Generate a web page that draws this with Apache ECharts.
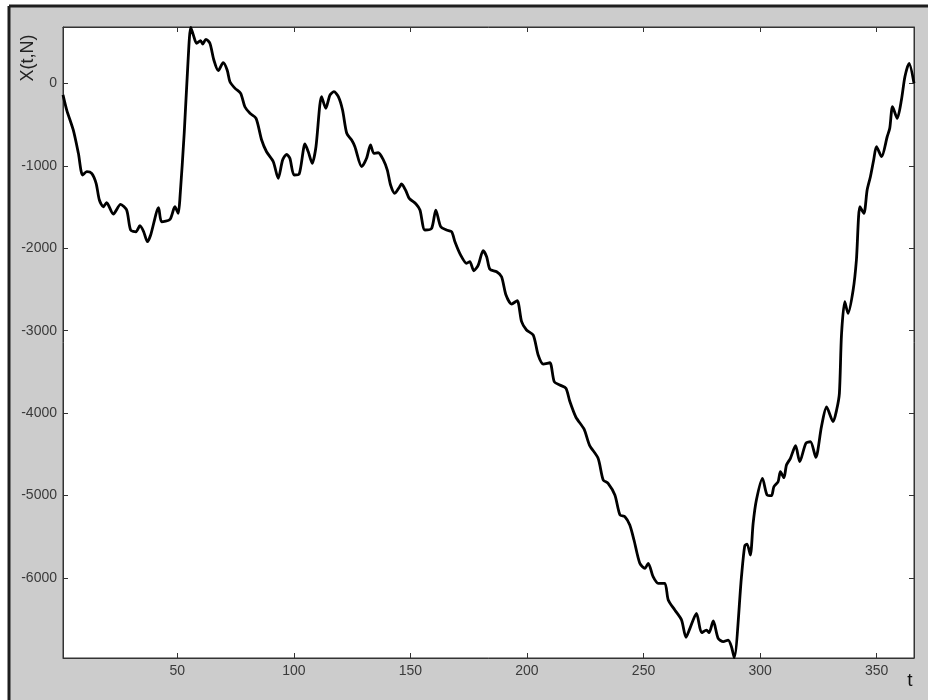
<!DOCTYPE html>
<html>
<head>
<meta charset="utf-8">
<script src="https://cdn.jsdelivr.net/npm/echarts@6/dist/echarts.min.js"></script>
<style>
html,body{margin:0;padding:0;background:#fff;}
#chart{width:928px;height:700px;}
</style>
</head>
<body>
<div id="chart"></div>
<script>
// t values (x axis)
const tValues = [1,2.6,5.4,7.6,9.4,11.2,13.3,15.2,16.6,18.3,19.7,22.6,25.7,28.3,30.0,32.3,34.0,35.6,37.2,38.6,42.0,43.3,46.9,49.0,50.4,51.2,53,54.5,55.8,
56.9,58.3,60.0,60.9,62.3,64.0,65.7,67.6,69.7,71.4,72.6,74.8,77.2,79.0,81.2,83.8,86.2,88.3,91.2,93.3,95.2,96.9,98.3,100.1,102.3,104.8,106.2,107.9,109.5,111.9,113.7,115.5,117.2,119.1,120.9,122.7,124.8,126.2,129.1,131.2,132.9,134.3,136.2,138.3,140.1,141.5,143.3,145.4,146.2,148.1,149.5,152.4,154.1,156.2,159.1,160.9,163.0,165.5,167.7,169.1,171.5,174.1,175.5,177.2,179.1,181.2,182.7,184.1,187.0,189.1,191.0,193.4,195.8,197.7,199.8,202.7,204.8,207.0,209.8,211.7,214.1,216.7,218.4,221.0,224.5,226.8,230.5,232.7,234.8,237.7,239.9,242.0,244.1,245.9,248.4,250.6,252.0,254.1,256.3,259.1,260.6,263.4,266.3,268.2,269.9,272.7,274.9,277.0,278.1,279.9,282.0,284.2,286.3,287.7,288.9,292.0,293.4,294.4,295.8,297.0,298.4,301.0,303.0,304.9,305.9,307.7,308.7,310.2,311.3,313.0,315.2,317.0,319.6,321.6,323.9,326.3,328.5,331.3,332.8,334.0,334.9,336.3,337.7,339.9,341.3,342.8,344.5,345.9,347.3,348.7,349.9,352.1,354.5,355.6,356.8,358.8,360.6,362.1,363.9,366];
// X(t,N) values
const xValues = [-140,-324,-566,-849,-1112,-1072,-1092,-1213,-1415,-1497,-1448,-1585,-1468,-1537,-1779,-1800,-1727,-1800,-1921,-1840,-1509,-1679,-1650,-1497,-1577,-1375,-600,200,679,
586,485,517,477,534,485,283,153,250,161,19,-61,-121,-284,-364,-425,-688,-830,-951,-1152,-930,-861,-910,-1112,-1100,-736,-830,-970,-769,-162,-303,-142,-102,-162,-324,-606,-688,-769,-1011,-910,-748,-849,-842,-922,-1052,-1233,-1334,-1254,-1221,-1306,-1395,-1464,-1537,-1779,-1759,-1537,-1739,-1779,-1800,-1921,-2080,-2183,-2163,-2273,-2204,-2030,-2103,-2256,-2285,-2346,-2568,-2677,-2637,-2891,-2992,-3053,-3295,-3405,-3389,-3619,-3659,-3699,-3860,-4050,-4195,-4387,-4548,-4811,-4851,-4993,-5236,-5256,-5357,-5539,-5822,-5882,-5822,-5984,-6064,-6064,-6267,-6388,-6509,-6719,-6610,-6428,-6663,-6631,-6663,-6521,-6731,-6772,-6752,-6833,-6965,-5984,-5610,-5588,-5721,-5337,-5054,-4791,-4993,-5001,-4893,-4832,-4711,-4783,-4630,-4548,-4395,-4589,-4366,-4347,-4536,-4165,-3926,-4104,-3963,-3760,-3050,-2649,-2790,-2507,-2143,-1497,-1577,-1294,-1133,-930,-769,-890,-648,-546,-284,-425,-203,80,243,0];
// tick labels
const xTicks = [50,100,150,200,250,300,350];
const yTicks = [-6000,-5000,-4000,-3000,-2000,-1000,0];
const xRange = [1,366];
const yRange = [-6970,683];

const data = tValues.map((t,i)=>[t,xValues[i]]);
const chart = echarts.init(document.getElementById('chart'));
const font = 'Liberation Sans, Arial, sans-serif';
const tickStyle = {show:true, inside:true, length:5, lineStyle:{color:'#333', width:1}};
const plain = v => String(v);
function xa(pos, labels){
  return {type:'value', position:pos, min:xRange[0], max:xRange[1],
    axisLine:{show:true, onZero:false, lineStyle:{color:'#333', width:1}},
    axisTick:Object.assign({customValues:xTicks}, tickStyle),
    axisLabel:{show:labels, customValues:xTicks, formatter:plain, color:'#3a3a3a', fontSize:14, fontFamily:font, margin:6},
    splitLine:{show:false}};
}
function ya(pos, labels){
  return {type:'value', position:pos, min:yRange[0], max:yRange[1],
    axisLine:{show:true, onZero:false, lineStyle:{color:'#333', width:1}},
    axisTick:Object.assign({customValues:yTicks}, tickStyle),
    axisLabel:{show:labels, customValues:yTicks, formatter:plain, color:'#3a3a3a', fontSize:14, fontFamily:font, margin:6},
    splitLine:{show:false}};
}
chart.setOption({
  backgroundColor:'#fff',
  animation:false,
  grid:{left:63, top:27, right:14, bottom:42, show:true, backgroundColor:'#fff', borderColor:'#333', borderWidth:1},
  xAxis:[xa('bottom', true), xa('top', false)],
  yAxis:[ya('left', true), ya('right', false)],
  graphic:[
    {type:'rect', z:-10, shape:{x:9, y:6, width:919, height:694}, style:{fill:'#cccccc'}},
    {type:'line', z:-5, shape:{x1:9, y1:6, x2:928, y2:6}, style:{stroke:'#1e1e1e', lineWidth:3}},
    {type:'line', z:-5, shape:{x1:9, y1:6, x2:9, y2:700}, style:{stroke:'#1e1e1e', lineWidth:3}},
    {type:'text', x:28, y:58, rotation:Math.PI/2, style:{text:'X(t,N)', font:'18px '+font, fill:'#222', textAlign:'center', textVerticalAlign:'middle'}},
    {type:'text', x:910, y:681, style:{text:'t', font:'19px '+font, fill:'#111', textAlign:'center', textVerticalAlign:'middle'}}
  ],
  series:[{type:'line', data:data, xAxisIndex:0, yAxisIndex:0, showSymbol:false, smooth:0.25,
    lineStyle:{color:'#000', width:2.8}, clip:true}]
});
</script>
</body>
</html>
